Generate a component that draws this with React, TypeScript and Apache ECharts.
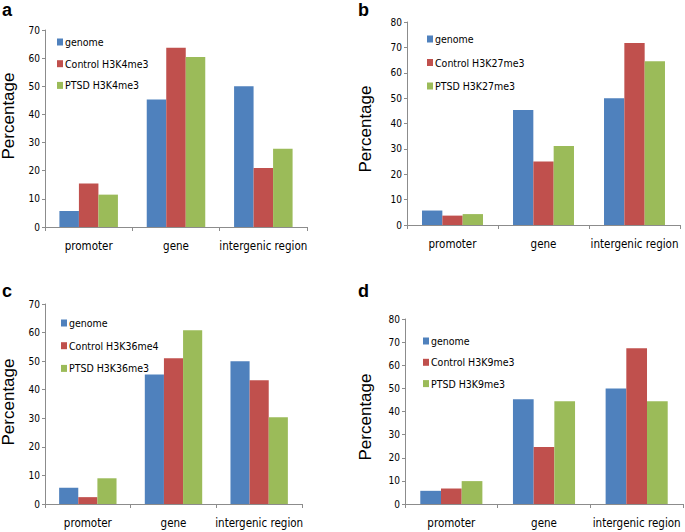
import React, { useEffect, useRef } from 'react';
import * as echarts from 'echarts';

const categories = ['promoter', 'gene', 'intergenic region'];
const genomeValues = [5.7, 45.3, 50.0];

const panelLetters = ['a', 'b', 'c', 'd'];
const controlNames = ['Control H3K4me3', 'Control H3K27me3', 'Control H3K36me4', 'Control H3K9me3'];
const ptsdNames = ['PTSD H3K4me3', 'PTSD H3K27me3', 'PTSD H3K36me3', 'PTSD H3K9me3'];

const controlA = [15.5, 63.7, 21.0];
const ptsdA = [11.5, 60.4, 27.8];
const controlB = [3.7, 25.0, 71.7];
const ptsdB = [4.3, 31.1, 64.5];
const controlC = [2.4, 51.0, 43.3];
const ptsdC = [9.0, 60.8, 30.4];
const controlD = [6.7, 24.6, 67.3];
const ptsdD = [9.9, 44.4, 44.4];

const yMaxes = [70, 80, 70, 80];
const yInterval = 10;
const yTitle = 'Percentage';

const controls = [controlA, controlB, controlC, controlD];
const ptsds = [ptsdA, ptsdB, ptsdC, ptsdD];

const COLORS = ['#4F81BD', '#C0504D', '#9BBB59'];
const AXIS_GRAY = '#8c8c8c';
const NARROW = '"Liberation Sans Narrow", "DejaVu Sans Condensed", "Arial Narrow", sans-serif';

// layout per panel
const grids = [
  { left: 45, top: 30, width: 262, height: 197 },
  { left: 407, top: 22, width: 273, height: 203 },
  { left: 45, top: 304, width: 257, height: 200 },
  { left: 405, top: 319, width: 278, height: 185 },
];
const legendPos = [
  { left: 57, top: 36, gap: 9.7 },
  { left: 427, top: 33, gap: 11.5 },
  { left: 61, top: 317, gap: 10.7 },
  { left: 423, top: 335, gap: 9.3 },
];
const letterPos = [
  { x: 2, y: 9.5 },
  { x: 358, y: 9.5 },
  { x: 2, y: 291 },
  { x: 358, y: 291 },
];
const titlePos = [
  { x: 8.5, y: 116 },
  { x: 365, y: 129 },
  { x: 8.5, y: 402 },
  { x: 365, y: 417 },
];

export default function App() {
  const ref = useRef<HTMLDivElement>(null);
  useEffect(() => {
    if (!ref.current) return;
    const chart = echarts.init(ref.current, undefined, { renderer: 'svg' });
    const series: any[] = [];
    const xAxis: any[] = [];
    const yAxis: any[] = [];
    const legend: any[] = [];
    const graphic: any[] = [];
    grids.forEach((g, i) => {
      xAxis.push({
        type: 'category',
        gridIndex: i,
        data: categories,
        axisLine: { show: true, lineStyle: { color: AXIS_GRAY, width: 1 } },
        axisTick: { show: true, length: 4, alignWithLabel: false, lineStyle: { color: AXIS_GRAY } },
        axisLabel: { interval: 0, fontSize: 11.5, margin: 13, color: '#000', fontFamily: NARROW },
        splitLine: { show: false },
      });
      yAxis.push({
        type: 'value',
        gridIndex: i,
        min: 0,
        max: yMaxes[i],
        interval: yInterval,
        axisLine: { show: true, lineStyle: { color: AXIS_GRAY, width: 1 } },
        axisTick: { show: true, length: 3, lineStyle: { color: AXIS_GRAY } },
        axisLabel: { fontSize: 10, margin: 5, color: '#000', fontFamily: NARROW },
        splitLine: { show: false },
      });
      const names = ['genome', controlNames[i], ptsdNames[i]];
      const datas = [genomeValues, controls[i], ptsds[i]];
      names.forEach((n, k) => {
        series.push({
          type: 'bar',
          name: n,
          xAxisIndex: i,
          yAxisIndex: i,
          data: datas[k],
          barGap: '0%',
          barCategoryGap: '33%',
          itemStyle: { color: COLORS[k] },
        });
      });
      const lp = legendPos[i];
      legend.push({
        data: names,
        orient: 'vertical',
        left: lp.left,
        top: lp.top,
        itemGap: lp.gap,
        itemWidth: 6,
        itemHeight: 7,
        icon: 'rect',
        padding: 0,
        textStyle: { fontSize: 10.5, lineHeight: 12, color: '#000', fontFamily: NARROW, padding: [0, 0, 0, -3] },
      });
      graphic.push({
        type: 'text',
        x: letterPos[i].x,
        y: letterPos[i].y,
        style: {
          text: panelLetters[i],
          font: 'bold 18px "Liberation Sans", Arial, sans-serif',
          fill: '#000',
          verticalAlign: 'middle',
        },
      });
      graphic.push({
        type: 'text',
        x: titlePos[i].x,
        y: titlePos[i].y,
        rotation: Math.PI / 2,
        style: {
          text: yTitle,
          font: '17px "Liberation Sans", Arial, sans-serif',
          fill: '#000',
          align: 'center',
          verticalAlign: 'middle',
        },
      });
    });
    chart.setOption({
      animation: false,
      backgroundColor: '#fff',
      grid: grids.map((g) => ({ ...g, containLabel: false })),
      xAxis,
      yAxis,
      legend,
      series,
      graphic,
    });
    return () => chart.dispose();
  }, []);
  return (
    <div
      ref={ref}
      style={{ position: 'fixed', left: 0, top: 0, width: 685, height: 532, background: '#fff' }}
    />
  );
}
